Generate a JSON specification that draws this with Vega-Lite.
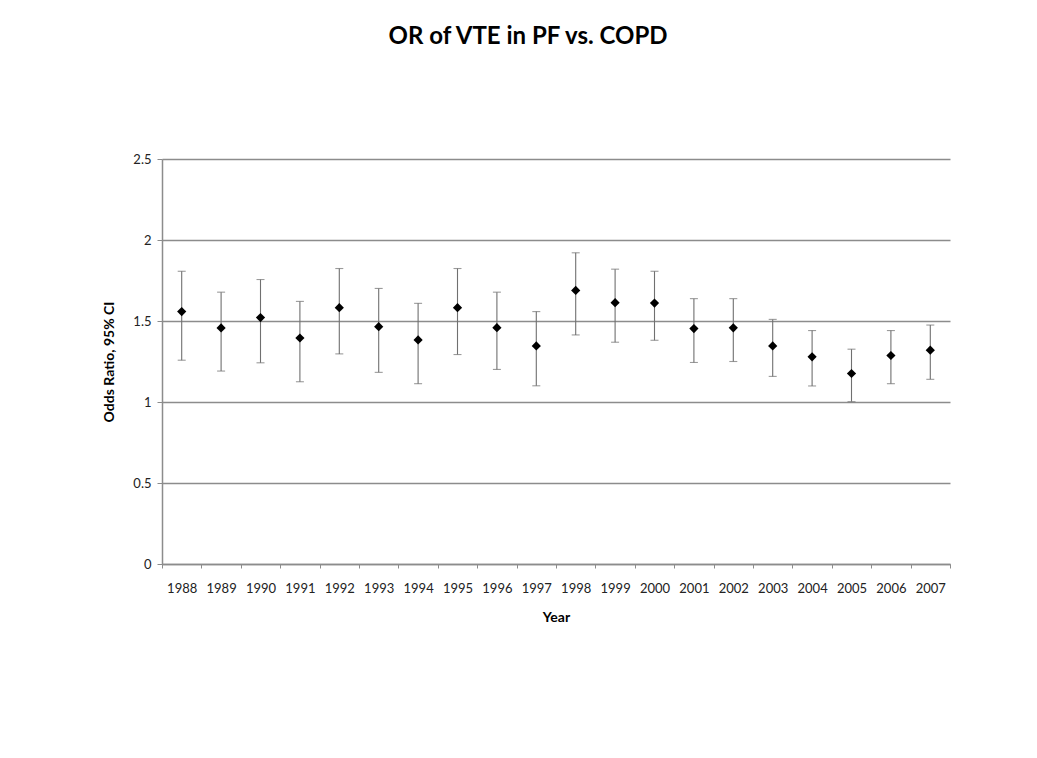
{
  "$schema": "https://vega.github.io/schema/vega-lite/v6.json",
  "autosize": {"type": "none"},
  "width": 788,
  "height": 405,
  "padding": {"left": 162, "top": 159, "right": 87, "bottom": 194},
  "background": "white",
  "title": {
    "text": "OR of VTE in PF vs. COPD",
    "font": "Lato",
    "fontSize": 24,
    "fontWeight": "bold",
    "color": "#000000",
    "anchor": "middle",
    "dx": -28,
    "offset": 104
  },
  "data": {
    "values": [
      {"year": "1988", "or": 1.558, "lo": 1.258, "hi": 1.807},
      {"year": "1989", "or": 1.457, "lo": 1.191, "hi": 1.678},
      {"year": "1990", "or": 1.521, "lo": 1.242, "hi": 1.756},
      {"year": "1991", "or": 1.395, "lo": 1.125, "hi": 1.621},
      {"year": "1992", "or": 1.582, "lo": 1.297, "hi": 1.824},
      {"year": "1993", "or": 1.465, "lo": 1.183, "hi": 1.701},
      {"year": "1994", "or": 1.383, "lo": 1.113, "hi": 1.609},
      {"year": "1995", "or": 1.582, "lo": 1.293, "hi": 1.824},
      {"year": "1996", "or": 1.459, "lo": 1.201, "hi": 1.678},
      {"year": "1997", "or": 1.346, "lo": 1.100, "hi": 1.558},
      {"year": "1998", "or": 1.689, "lo": 1.414, "hi": 1.921},
      {"year": "1999", "or": 1.613, "lo": 1.369, "hi": 1.820},
      {"year": "2000", "or": 1.611, "lo": 1.381, "hi": 1.807},
      {"year": "2001", "or": 1.453, "lo": 1.244, "hi": 1.638},
      {"year": "2002", "or": 1.458, "lo": 1.250, "hi": 1.638},
      {"year": "2003", "or": 1.346, "lo": 1.158, "hi": 1.510},
      {"year": "2004", "or": 1.279, "lo": 1.099, "hi": 1.441},
      {"year": "2005", "or": 1.176, "lo": 1.002, "hi": 1.326},
      {"year": "2006", "or": 1.287, "lo": 1.113, "hi": 1.441},
      {"year": "2007", "or": 1.320, "lo": 1.140, "hi": 1.475}
    ]
  },
  "encoding": {
    "x": {
      "field": "year",
      "type": "ordinal",
      "scale": {"paddingInner": 0, "paddingOuter": 0},
      "axis": {
        "title": "Year",
        "labelAngle": 0,
        "tickBand": "extent",
        "grid": false,
        "domainColor": "#8c8c8c",
        "domainWidth": 1.5,
        "tickColor": "#8c8c8c",
        "tickSize": 4,
        "labelPadding": 14,
        "labelFont": "Lato",
        "labelFontSize": 13,
        "labelColor": "#222222",
        "titleFont": "Lato",
        "titleFontSize": 14,
        "titleFontWeight": "bold",
        "titleColor": "#000000",
        "titlePadding": 15
      }
    }
  },
  "layer": [
    {
      "mark": {"type": "rule", "color": "#707070", "strokeWidth": 1.1},
      "encoding": {
        "y": {
          "field": "lo",
          "type": "quantitative",
          "scale": {"domain": [0, 2.5], "nice": false},
          "axis": {
            "title": "Odds Ratio, 95% CI",
            "values": [0, 0.5, 1, 1.5, 2, 2.5],
            "format": "~g",
            "grid": true,
            "gridColor": "#8c8c8c",
            "gridWidth": 1.5,
            "domainColor": "#8c8c8c",
            "domainWidth": 1.5,
            "tickColor": "#8c8c8c",
            "tickSize": 5,
            "labelPadding": 6,
            "labelFont": "Lato",
            "labelFontSize": 13,
            "labelColor": "#222222",
            "titleFont": "Lato",
            "titleFontSize": 14,
            "titleFontWeight": "bold",
            "titleColor": "#000000",
            "titlePadding": 16
          }
        },
        "y2": {"field": "hi"}
      }
    },
    {
      "mark": {"type": "tick", "color": "#707070", "size": 8, "thickness": 1.1},
      "encoding": {"y": {"field": "lo", "type": "quantitative"}}
    },
    {
      "mark": {"type": "tick", "color": "#707070", "size": 8, "thickness": 1.1},
      "encoding": {"y": {"field": "hi", "type": "quantitative"}}
    },
    {
      "mark": {"type": "point", "shape": "diamond", "filled": true, "color": "#000000", "size": 85, "opacity": 1},
      "encoding": {"y": {"field": "or", "type": "quantitative"}}
    }
  ],
  "config": {"view": {"stroke": null}}
}
